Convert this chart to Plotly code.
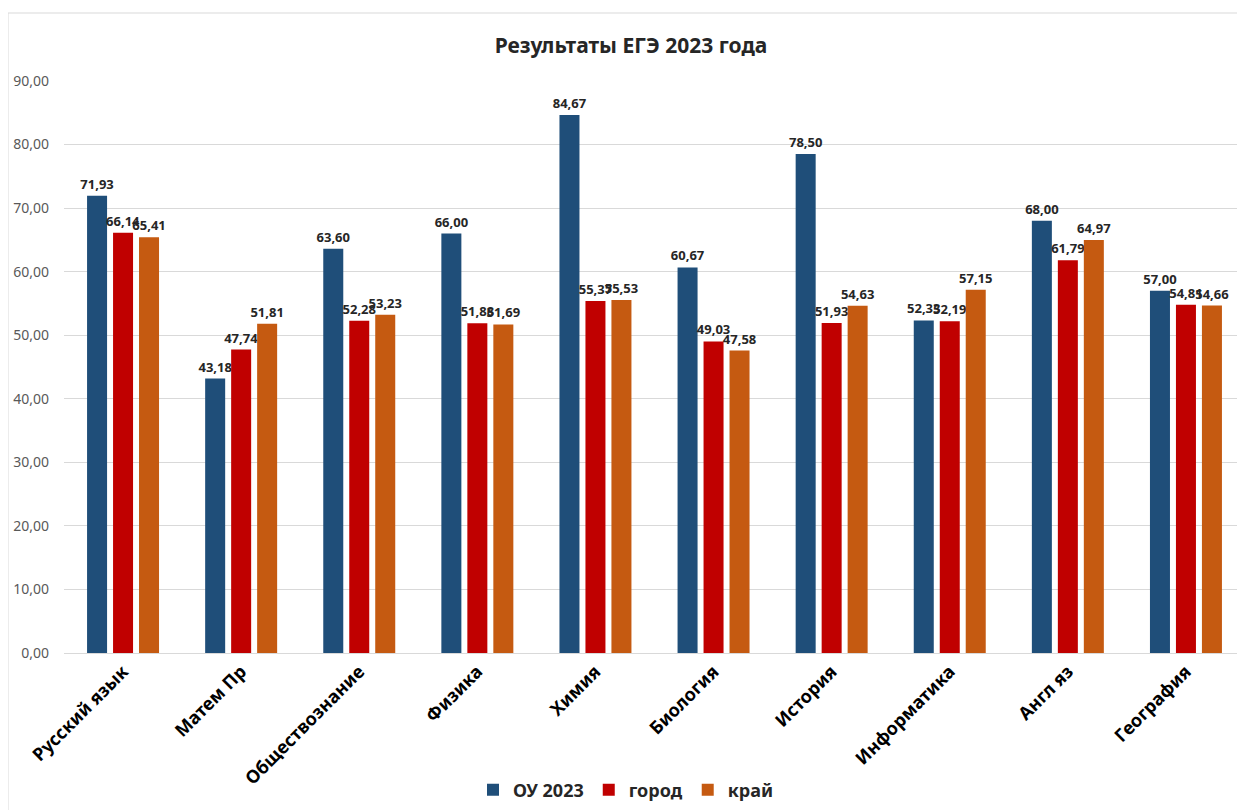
import plotly.graph_objects as go

categories = ["Русский язык", "Матем Пр", "Обществознание", "Физика", "Химия",
              "Биология", "История", "Информатика", "Англ яз", "География"]
ou_2023 = [71.93, 43.18, 63.60, 66.00, 84.67, 60.67, 78.50, 52.33, 68.00, 57.00]
gorod = [66.14, 47.74, 52.28, 51.88, 55.37, 49.03, 51.93, 52.19, 61.79, 54.81]
krai = [65.41, 51.81, 53.23, 51.69, 55.53, 47.58, 54.63, 57.15, 64.97, 54.66]
y_ticks = [0, 10, 20, 30, 40, 50, 60, 70, 80, 90]

series = [("ОУ 2023", ou_2023, "#1F4E79"),
          ("город", gorod, "#C00000"),
          ("край", krai, "#C55A11")]

FONT = "Noto Sans"

# page has an 8px body margin, so the figure is sized to fit the window
W, H = 1237, 802
L, T, B = 56, 73, 157
PW, PH = W - L, H - T - B


def fmt(v):
    return f"{v:.2f}".replace(".", ",")


fig = go.Figure()
for name, vals, color in series:
    fig.add_trace(go.Bar(
        name=f"<b>{name}</b>", x=categories, y=vals, marker_color=color,
        marker_line_width=0,
        text=[fmt(v) for v in vals], textposition="outside",
        texttemplate="<b>%{text}</b>",
        textfont=dict(family=FONT, size=13, color="#262626"),
        constraintext="none", cliponaxis=False,
    ))

fig.update_layout(
    width=W, height=H,
    margin=dict(l=L, r=0, t=T, b=B, pad=0),
    paper_bgcolor="white", plot_bgcolor="white",
    barmode="group", bargap=0.34, bargroupgap=0.23,
    font=dict(family=FONT),
    title=dict(text="<b>Результаты ЕГЭ 2023 года</b>", x=623 / W, xref="container",
               y=1 - 38 / H, yref="container", xanchor="center", yanchor="middle",
               font=dict(family=FONT, size=21, color="#262626")),
    legend=dict(orientation="h", x=(618 - L) / PW, xanchor="center",
                y=-137 / PH, yanchor="middle",
                font=dict(family=FONT, size=18, color="#262626"),
                itemwidth=30, traceorder="normal"),
    showlegend=True,
)
fig.update_yaxes(range=[0, 90], tickvals=y_ticks,
                 ticktext=[fmt(v) for v in y_ticks],
                 showgrid=True, gridcolor="#D9D9D9", gridwidth=1,
                 zeroline=False, showline=False, ticks="",
                 ticklabelstandoff=14,
                 tickfont=dict(family=FONT, size=14, color="#595959"))
fig.update_xaxes(tickangle=-45, showline=True, linecolor="#D9D9D9", linewidth=1,
                 ticks="", tickprefix="<b>", ticksuffix="</b>",
                 tickfont=dict(family=FONT, size=18, color="#000000"))

fig.add_shape(type="rect", xref="paper", yref="paper",
              x0=-L / PW, x1=1.0, y0=-(B + 5) / PH, y1=(PH + T - 5) / PH,
              line=dict(color="#D9D9D9", width=1), fillcolor="rgba(0,0,0,0)",
              layer="below")

fig.write_html("out.html")
